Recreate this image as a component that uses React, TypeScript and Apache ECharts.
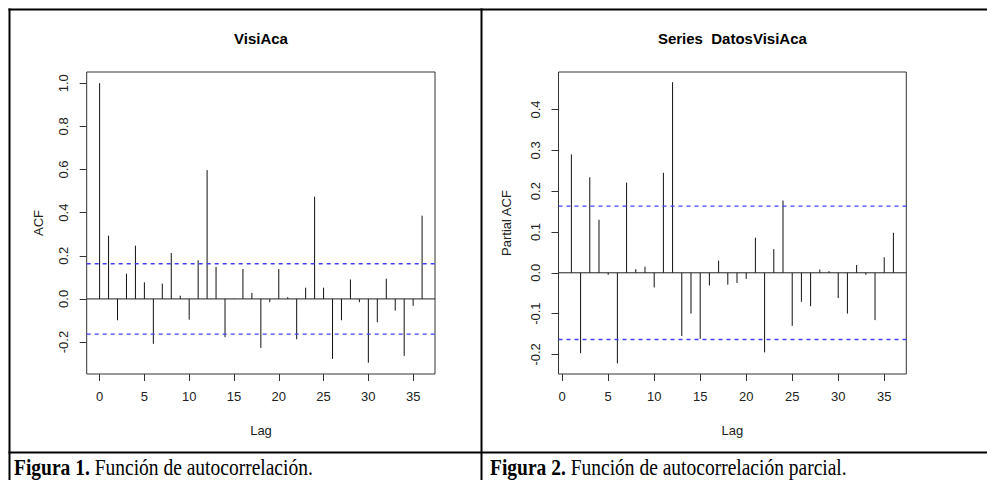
import React, { useEffect, useRef } from "react";
import * as echarts from "echarts";

// ---- Data ----
const acfLags = [0, 1, 2, 3, 4, 5, 6, 7, 8, 9, 10, 11, 12, 13, 14, 15, 16, 17, 18, 19, 20, 21, 22, 23, 24, 25, 26, 27, 28, 29, 30, 31, 32, 33, 34, 35, 36];
const acfValues = [1.0, 0.293, -0.099, 0.117, 0.247, 0.077, -0.208, 0.071, 0.213, 0.015, -0.096, 0.179, 0.597, 0.148, -0.177, 0.002, 0.139, 0.028, -0.227, -0.015, 0.139, 0.008, -0.187, 0.052, 0.474, 0.052, -0.278, -0.099, 0.09, -0.015, -0.296, -0.108, 0.094, -0.054, -0.264, -0.032, 0.386];

const pacfLags = [1, 2, 3, 4, 5, 6, 7, 8, 9, 10, 11, 12, 13, 14, 15, 16, 17, 18, 19, 20, 21, 22, 23, 24, 25, 26, 27, 28, 29, 30, 31, 32, 33, 34, 35, 36];
const pacfValues = [0.29, -0.197, 0.234, 0.13, -0.005, -0.222, 0.221, 0.009, 0.015, -0.036, 0.245, 0.467, -0.155, -0.1, -0.162, -0.031, 0.03, -0.029, -0.025, -0.015, 0.086, -0.195, 0.058, 0.177, -0.13, -0.071, -0.082, 0.008, 0.004, -0.062, -0.1, 0.019, -0.005, -0.116, 0.038, 0.098];

const confLimit = 0.1633;

const lagTicks = [0, 5, 10, 15, 20, 25, 30, 35];
const acfYTicks = [-0.2, 0, 0.2, 0.4, 0.6, 0.8, 1.0];
const pacfYTicks = [-0.2, -0.1, 0, 0.1, 0.2, 0.3, 0.4];

const acfXRange = [-1.44, 37.44];
const acfYRange = [-0.348, 1.052];
const pacfXRange = [-0.4, 37.4];
const pacfYRange = [-0.248, 0.492];

const titles = ["VisiAca", "Series  DatosVisiAca"];
const yNames = ["ACF", "Partial ACF"];
const xName = "Lag";
const captions = [
  ["Figura 1.", "Función de autocorrelación."],
  ["Figura 2.", "Función de autocorrelación parcial."],
];

const SANS = "Liberation Sans, Arial, sans-serif";
const SERIF = "Liberation Serif, Times New Roman, serif";
const AXIS_COLOR = "#333";
const TEXT_COLOR = "#222";
const CONF_COLOR = "#4040ff";

function makeXAxis(gridIndex: number, range: number[]) {
  return {
    gridIndex,
    type: "value",
    min: range[0],
    max: range[1],
    axisLine: { show: false, onZero: false },
    splitLine: { show: false },
    axisTick: {
      show: true,
      length: 7,
      customValues: lagTicks,
      lineStyle: { color: AXIS_COLOR, width: 1 },
    },
    axisLabel: {
      customValues: lagTicks,
      fontSize: 13,
      fontFamily: SANS,
      color: TEXT_COLOR,
      margin: 16,
    },
  };
}

function makeYAxis(gridIndex: number, range: number[], ticks: number[]) {
  return {
    gridIndex,
    type: "value",
    min: range[0],
    max: range[1],
    axisLine: { show: false, onZero: false },
    splitLine: { show: false },
    axisTick: {
      show: true,
      length: 7,
      customValues: ticks,
      lineStyle: { color: AXIS_COLOR, width: 1 },
    },
    axisLabel: {
      customValues: ticks,
      rotate: 90,
      fontSize: 13,
      fontFamily: SANS,
      color: TEXT_COLOR,
      margin: 17,
      formatter: (v: number) => v.toFixed(1),
    },
  };
}

function stemSeries(idx: number, lags: number[], values: number[]) {
  return {
    type: "custom",
    xAxisIndex: idx,
    yAxisIndex: idx,
    silent: true,
    data: lags.map((l, i) => [l, values[i]]),
    encode: { x: 0, y: 1 },
    renderItem: (_params: any, api: any) => {
      const x = api.value(0);
      const y = api.value(1);
      const p0 = api.coord([x, 0]);
      const p1 = api.coord([x, y]);
      return {
        type: "line",
        shape: { x1: p0[0], y1: p0[1], x2: p1[0], y2: p1[1] },
        style: { stroke: "#111", lineWidth: 1 },
      };
    },
  };
}

function hLine(idx: number, xRange: number[], value: number, color: string, dashed: boolean) {
  return {
    type: "line",
    xAxisIndex: idx,
    yAxisIndex: idx,
    silent: true,
    symbol: "none",
    showSymbol: false,
    color,
    data: [
      [xRange[0], value],
      [xRange[1], value],
    ],
    lineStyle: { color, width: dashed ? 1.4 : 1, type: dashed ? [4, 4] : "solid" },
    itemStyle: { color },
    z: 3,
  };
}

export default function App() {
  const ref = useRef<HTMLDivElement>(null);

  useEffect(() => {
    if (!ref.current) return;
    const chart = echarts.init(ref.current, undefined, { renderer: "svg" });

    const grids = [
      { left: 86.7, top: 72, width: 348.3, height: 302 },
      { left: 558.5, top: 72, width: 347.8, height: 302 },
    ];

    const tableLine = (x1: number, y1: number, x2: number, y2: number) => ({
      type: "line",
      silent: true,
      shape: { x1, y1, x2, y2 },
      style: { stroke: "#000", lineWidth: 2 },
    });

    const graphic: any[] = [
      tableLine(8.5, 9.5, 987, 9.5),
      tableLine(9.5, 8.5, 9.5, 480),
      tableLine(481.5, 8.5, 481.5, 480),
      tableLine(8.5, 452.5, 987, 452.5),
    ];

    const centers = [261, 732.4];
    const yNameX = [38, 506];
    titles.forEach((t, i) => {
      graphic.push({
        type: "text",
        x: centers[i],
        y: 38,
        style: {
          text: t,
          fontFamily: SANS,
          fontWeight: "bold",
          fontSize: 15,
          fill: "#000",
          align: "center",
          verticalAlign: "middle",
        },
      });
      graphic.push({
        type: "text",
        x: centers[i],
        y: 430,
        style: {
          text: xName,
          fontFamily: SANS,
          fontSize: 13,
          fill: TEXT_COLOR,
          align: "center",
          verticalAlign: "middle",
        },
      });
      graphic.push({
        type: "text",
        x: yNameX[i],
        y: 223,
        rotation: Math.PI / 2,
        style: {
          text: yNames[i],
          fontFamily: SANS,
          fontSize: 13,
          fill: TEXT_COLOR,
          align: "center",
          verticalAlign: "middle",
        },
      });
    });

    const capX = [14, 490];
    captions.forEach((c, i) => {
      graphic.push({
        type: "text",
        x: capX[i],
        y: 467.5,
        scaleY: 1.15,
        style: {
          text: `{b|${c[0]}} {r|${c[1]}}`,
          align: "left",
          verticalAlign: "middle",
          rich: {
            b: { fontFamily: SERIF, fontWeight: "bold", fontSize: 19.5, fill: "#000", color: "#000" },
            r: { fontFamily: SERIF, fontSize: 19.5, fill: "#000", color: "#000" },
          },
          fontFamily: SERIF,
          fontSize: 19.5,
        },
      });
    });

    chart.setOption({
      animation: false,
      backgroundColor: "#fff",
      grid: grids.map((g) => ({
        ...g,
        show: true,
        borderColor: AXIS_COLOR,
        borderWidth: 1,
        backgroundColor: "transparent",
        containLabel: false,
      })),
      xAxis: [makeXAxis(0, acfXRange), makeXAxis(1, pacfXRange)],
      yAxis: [makeYAxis(0, acfYRange, acfYTicks), makeYAxis(1, pacfYRange, pacfYTicks)],
      series: [
        stemSeries(0, acfLags, acfValues),
        hLine(0, acfXRange, 0, "#222222", false),
        hLine(0, acfXRange, confLimit, CONF_COLOR, true),
        hLine(0, acfXRange, -confLimit, CONF_COLOR, true),
        stemSeries(1, pacfLags, pacfValues),
        hLine(1, pacfXRange, 0, "#222222", false),
        hLine(1, pacfXRange, confLimit, CONF_COLOR, true),
        hLine(1, pacfXRange, -confLimit, CONF_COLOR, true),
      ],
      graphic,
    });

    return () => chart.dispose();
  }, []);

  return (
    <div
      ref={ref}
      style={{ position: "absolute", left: 0, top: 0, width: 987, height: 480, background: "#fff" }}
    />
  );
}
